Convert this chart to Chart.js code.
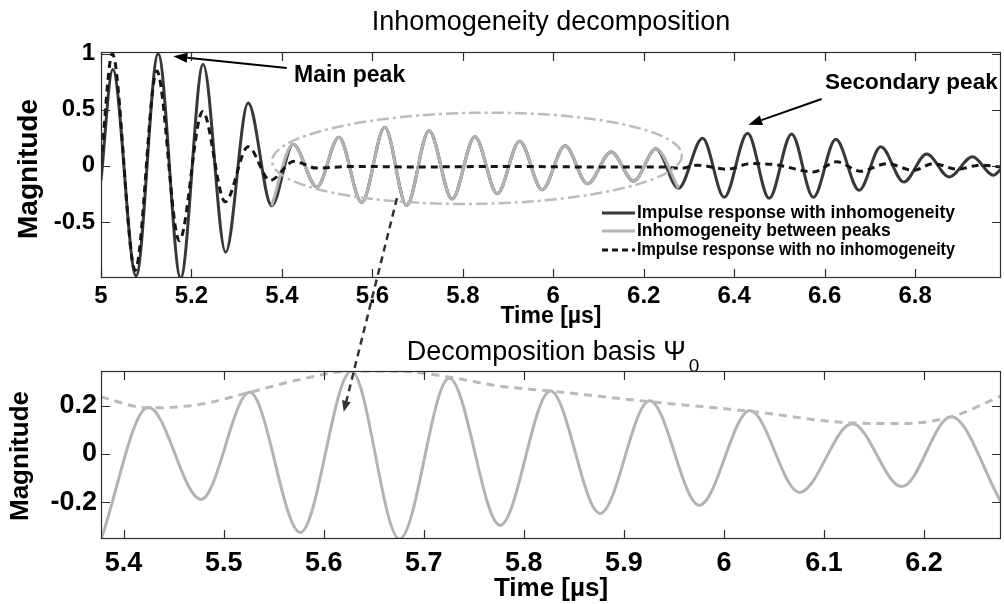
<!DOCTYPE html>
<html><head><meta charset="utf-8">
<script src="https://cdn.jsdelivr.net/npm/chart.js@4"></script>
<style>
html,body{margin:0;padding:0;background:#fff;}
#wrap{position:relative;width:1004px;height:604px;overflow:hidden;background:#fff;}
canvas{position:absolute;left:0;top:0;}
</style></head><body>
<div id="wrap"><canvas id="c1" width="1004" height="604"></canvas><canvas id="c2" width="1004" height="604"></canvas></div>
<script>
// ---------------- DATA ----------------
// Impulse response with inhomogeneity: head part (main pulse)
const irInhomHeadT = [5.000, 5.026, 5.0776, 5.1264, 5.1761, 5.2258, 5.2756, 5.3253];
const irInhomHeadV = [-0.13, 0.86, -0.98, 1.00, -1.00, 0.905, -0.77, 0.56];
// Inhomogeneity between peaks (also middle part of the response)
const inhomT = [5.3774, 5.4248, 5.4774, 5.526, 5.5766, 5.6275, 5.6758, 5.7254, 5.7763, 5.8266, 5.8762, 5.9258, 5.9754, 6.026, 6.0756, 6.1282, 6.1778, 6.227, 6.2769];
const inhomV = [-0.355, 0.193, -0.189, 0.255, -0.326, 0.343, -0.353, 0.313, -0.296, 0.26, -0.247, 0.22, -0.213, 0.179, -0.16, 0.124, -0.136, 0.153, -0.2];
// Impulse response with inhomogeneity: tail part (secondary peak)
const irInhomTailT = [6.3302, 6.378, 6.4297, 6.4774, 6.527, 6.575, 6.6247, 6.6764, 6.7242, 6.775, 6.8257, 6.8754, 6.9271, 6.9729, 6.99];
const irInhomTailV = [0.246, -0.28, 0.29, -0.29, 0.285, -0.28, 0.237, -0.218, 0.17, -0.144, 0.105, -0.099, 0.081, -0.084, -0.03];
// Impulse response with no inhomogeneity
const irHomT = [5.000, 5.025, 5.0756, 5.1234, 5.1731, 5.2248, 5.2746, 5.3253, 5.374, 5.4266, 5.477, 5.557, 5.696, 5.895, 6.094, 6.243, 6.283, 6.318, 6.385, 6.436, 6.492, 6.575, 6.627, 6.679, 6.738, 6.796, 6.841, 6.893, 6.944, 6.99];
const irHomV = [0.02, 1.00, -0.93, 0.845, -0.667, 0.485, -0.32, 0.17, -0.13, 0.04, -0.02, -0.005, -0.01, -0.005, -0.01, -0.01, -0.023, 0.006, -0.03, 0.02, 0.01, -0.054, 0.036, -0.048, 0.02, -0.04, 0.02, -0.03, 0.006, -0.01];
// Envelope of the decomposition basis (bottom plot, dashed)
const envT = [5.3774, 5.4248, 5.4764, 5.526, 5.5766, 5.6275, 5.6768, 5.7264, 5.7763, 5.8266, 5.9258, 6.0264, 6.1272, 6.1772, 6.2272, 6.2769];
const envV = [0.235, 0.19, 0.205, 0.255, 0.308, 0.343, 0.342, 0.317, 0.28, 0.26, 0.216, 0.176, 0.128, 0.125, 0.153, 0.239];

// Tick values and labels
const topXTicks = [5, 5.2, 5.4, 5.6, 5.8, 6, 6.2, 6.4, 6.6, 6.8];
const topXLabels = ['5', '5.2', '5.4', '5.6', '5.8', '6', '6.2', '6.4', '6.6', '6.8'];
const topYTicks = [-0.5, 0, 0.5, 1];
const topYLabels = ['-0.5', '0', '0.5', '1'];
const botXTicks = [5.4, 5.5, 5.6, 5.7, 5.8, 5.9, 6, 6.1, 6.2];
const botXLabels = ['5.4', '5.5', '5.6', '5.7', '5.8', '5.9', '6', '6.1', '6.2'];
const botYTicks = [-0.2, 0, 0.2];
const botYLabels = ['-0.2', '0', '0.2'];

// Axis ranges
const topXRange = [5.0, 6.99];
const topYRange = [-1.0, 1.015];
const botXRange = [5.3774, 6.2769];
const botYRange = [-0.353, 0.343];

// Texts
const topTitle = 'Inhomogeneity decomposition';
const botTitle = 'Decomposition basis \u03A8';
const botTitleSub = '0';
const xLabel = 'Time [\u00B5s]';
const yLabel = 'Magnitude';
const legendLabels = ['Impulse response with inhomogeneity', 'Inhomogeneity between peaks', 'Impulse response with no inhomogeneity'];
const mainPeakText = 'Main peak';
const secPeakText = 'Secondary peak';

// Annotation anchors (data coordinates of the top plot unless noted)
const mainArrow = {x0: 5.4106, y0: 0.872, x1: 5.160, y1: 0.976};
const mainTextPos = {x: 5.4267, y: 0.804};
const secArrow = {x0: 6.5934, y0: 0.5955, x1: 6.4311, y1: 0.366};
const secTextPos = {x: 6.6010, y: 0.741};
const ellipseSpec = {cx: 5.8313, cy: 0.067, rx: 0.4532, ry: 0.406, rot: -0.015};
const zoomArrowStart = {x: 5.6544, y: -0.288};   // top plot coords
const zoomArrowEnd = {x: 5.620, y: 0.174};       // bottom plot coords

// ---------------- STYLE ----------------
const FONT = '"Liberation Sans", Arial, Helvetica, sans-serif';
const C_DARK = '#383838', C_GRAY = '#b3b3b3', C_DASH = '#161616', C_FRAME = '#2e2e2e';

function pts(T, V) { return T.map((t, i) => ({x: t, y: V[i]})); }

function makeScales(xr, yr, xt, xl, yt, yl, fs, xPad, yPad, yW, xH) {
  return {
    x: {
      type: 'linear', min: xr[0], max: xr[1],
      grid: {display: false, drawTicks: false}, border: {display: false},
      afterBuildTicks: s => { s.ticks = xt.map(v => ({value: v})); },
      afterFit: s => { s.height = xH; },
      ticks: {autoSkip: false, maxRotation: 0, minRotation: 0, padding: xPad, color: '#000',
        font: {family: FONT, size: fs, weight: 'bold'}, callback: (v, i) => xl[i]}
    },
    y: {
      type: 'linear', min: yr[0], max: yr[1],
      grid: {display: false, drawTicks: false}, border: {display: false},
      afterBuildTicks: s => { s.ticks = yt.map(v => ({value: v})); },
      afterFit: s => { s.width = yW; },
      ticks: {autoSkip: false, padding: yPad, color: '#000',
        font: {family: FONT, size: fs, weight: 'bold'}, callback: (v, i) => yl[i]}
    }
  };
}

const frameTicks = {
  id: 'frameTicks',
  afterDatasetsDraw(chart) {
    const {ctx, chartArea: a, scales: {x, y}} = chart;
    const L = 9;
    ctx.save();
    ctx.strokeStyle = C_FRAME; ctx.lineWidth = 1.2; ctx.setLineDash([]);
    ctx.strokeRect(a.left + 0.5, a.top + 0.5, a.right - a.left - 1, a.bottom - a.top - 1);
    ctx.beginPath();
    x.ticks.forEach(t => {
      const p = Math.round(x.getPixelForValue(t.value)) + 0.5;
      ctx.moveTo(p, a.bottom); ctx.lineTo(p, a.bottom - L);
      ctx.moveTo(p, a.top); ctx.lineTo(p, a.top + L);
    });
    y.ticks.forEach(t => {
      const p = Math.round(y.getPixelForValue(t.value)) + 0.5;
      ctx.moveTo(a.left, p); ctx.lineTo(a.left + L, p);
      ctx.moveTo(a.right, p); ctx.lineTo(a.right - L, p);
    });
    ctx.stroke();
    ctx.restore();
  }
};

function arrow(ctx, x0, y0, x1, y1, color, lw, dash, hl, hw) {
  ctx.save();
  ctx.strokeStyle = color; ctx.fillStyle = color; ctx.lineWidth = lw;
  const ang = Math.atan2(y1 - y0, x1 - x0);
  const bx = x1 - hl * Math.cos(ang), by = y1 - hl * Math.sin(ang);
  ctx.setLineDash(dash);
  ctx.beginPath(); ctx.moveTo(x0, y0); ctx.lineTo(bx, by); ctx.stroke();
  ctx.setLineDash([]);
  ctx.beginPath();
  ctx.moveTo(x1, y1);
  ctx.lineTo(bx + hw * Math.sin(ang), by - hw * Math.cos(ang));
  ctx.lineTo(bx - hw * Math.sin(ang), by + hw * Math.cos(ang));
  ctx.closePath(); ctx.fill();
  ctx.restore();
}

function text(ctx, s, x, y, font, align, rot, maxW) {
  ctx.save();
  ctx.fillStyle = '#000'; ctx.font = font; ctx.textAlign = align || 'center'; ctx.textBaseline = 'middle';
  ctx.translate(x, y);
  if (rot) ctx.rotate(rot);
  if (maxW) ctx.fillText(s, 0, 0, maxW); else ctx.fillText(s, 0, 0);
  ctx.restore();
}

const topAnno = {
  id: 'topAnno',
  afterDatasetsDraw(chart) {
    const {ctx, chartArea: a, scales: {x, y}} = chart;
    const px = t => x.getPixelForValue(t), py = v => y.getPixelForValue(v);
    // ellipse
    ctx.save();
    ctx.beginPath();
    const e = ellipseSpec;
    ctx.ellipse(px(e.cx), py(e.cy), px(e.cx + e.rx) - px(e.cx), py(e.cy) - py(e.cy + e.ry), e.rot, 0, Math.PI * 2);
    ctx.setLineDash([12, 4, 3, 4]); ctx.strokeStyle = '#bcbcbc'; ctx.lineWidth = 2.5; ctx.stroke();
    ctx.restore();
    // arrows + texts
    arrow(ctx, px(mainArrow.x0), py(mainArrow.y0), px(mainArrow.x1), py(mainArrow.y1), '#000', 2, [], 14, 5);
    arrow(ctx, px(secArrow.x0), py(secArrow.y0), px(secArrow.x1), py(secArrow.y1), '#000', 2, [], 14, 5);
    text(ctx, mainPeakText, px(mainTextPos.x), py(mainTextPos.y), 'bold 23px ' + FONT, 'left');
    text(ctx, secPeakText, px(secTextPos.x), py(secTextPos.y), 'bold 22.5px ' + FONT, 'left');
    // legend
    const lx0 = 602, lx1 = 635, tx = 637, rows = [213, 231, 250], maxW = [0, 0, 318];
    const styles = [[C_DARK, []], [C_GRAY, []], [C_DASH, [6, 4]]];
    rows.forEach((ry, i) => {
      ctx.save();
      ctx.strokeStyle = styles[i][0]; ctx.lineWidth = 3; ctx.setLineDash(styles[i][1]);
      ctx.beginPath(); ctx.moveTo(lx0, ry); ctx.lineTo(lx1, ry); ctx.stroke();
      ctx.restore();
      text(ctx, legendLabels[i], tx, ry, 'bold 17.5px ' + FONT, 'left', 0, maxW[i]);
    });
    // title and axis labels
    const cx = (a.left + a.right) / 2;
    text(ctx, topTitle, cx, 23, '27px ' + FONT, 'center');
    text(ctx, xLabel, cx, 317, 'bold 23px ' + FONT, 'center');
    text(ctx, yLabel, 29, (a.top + a.bottom) / 2 + 4, 'bold 28px ' + FONT, 'center', -Math.PI / 2);
  }
};

const c1 = new Chart(document.getElementById('c1'), {
  type: 'line',
  data: {datasets: [
    {data: pts(irHomT, irHomV), borderColor: C_DASH, borderWidth: 3, borderDash: [7, 5], order: 1},
    {data: pts(inhomT, inhomV), borderColor: C_GRAY, borderWidth: 3, order: 2},
    {data: pts(irInhomHeadT.concat(inhomT, irInhomTailT), irInhomHeadV.concat(inhomV, irInhomTailV)), borderColor: C_DARK, borderWidth: 3, order: 3}
  ]},
  options: {
    responsive: false, animation: false, events: [],
    layout: {padding: {left: 41, top: 52, right: 3, bottom: 286}},
    elements: {point: {radius: 0}, line: {cubicInterpolationMode: 'monotone', borderJoinStyle: 'round'}},
    plugins: {legend: {display: false}, tooltip: {enabled: false}},
    scales: makeScales(topXRange, topYRange, topXTicks, topXLabels, topYTicks, topYLabels, 24, 4, 6, 60, 40)
  },
  plugins: [topAnno, frameTicks]
});

const botAnno = {
  id: 'botAnno',
  afterDatasetsDraw(chart) {
    const {ctx, chartArea: a, scales: {x, y}} = chart;
    const cx = (a.left + a.right) / 2;
    // title with subscript
    ctx.save();
    ctx.font = '27px ' + FONT;
    const w1 = ctx.measureText(botTitle).width;
    ctx.font = '19px ' + FONT;
    const w2 = ctx.measureText(botTitleSub).width;
    const x0 = cx + 2 - (w1 + 3 + w2) / 2;
    ctx.fillStyle = '#000'; ctx.textBaseline = 'alphabetic'; ctx.textAlign = 'left';
    ctx.font = '27px ' + FONT; ctx.fillText(botTitle, x0, 360);
    ctx.font = '19px ' + FONT; ctx.fillText(botTitleSub, x0 + w1 + 3, 372);
    ctx.restore();
    text(ctx, xLabel, cx, 589, 'bold 26px ' + FONT, 'center');
    text(ctx, yLabel, 21, (a.top + a.bottom) / 2 + 1, 'bold 26px ' + FONT, 'center', -Math.PI / 2);
  },
  afterDraw(chart) {
    const {ctx, scales: {x, y}} = chart;
    const sx = c1.scales.x, sy = c1.scales.y;
    arrow(ctx, sx.getPixelForValue(zoomArrowStart.x), sy.getPixelForValue(zoomArrowStart.y),
      x.getPixelForValue(zoomArrowEnd.x), y.getPixelForValue(zoomArrowEnd.y), '#333', 2.5, [7, 5], 11, 4.5);
  }
};

new Chart(document.getElementById('c2'), {
  type: 'line',
  data: {datasets: [
    {data: pts(envT, envV), borderColor: '#bababa', borderWidth: 3, borderDash: [8, 6], order: 1},
    {data: pts(inhomT, inhomV), borderColor: C_GRAY, borderWidth: 3, order: 2}
  ]},
  options: {
    responsive: false, animation: false, events: [],
    layout: {padding: {left: 41, top: 371, right: 3, bottom: 20}},
    elements: {point: {radius: 0}, line: {cubicInterpolationMode: 'monotone', borderJoinStyle: 'round'}},
    plugins: {legend: {display: false}, tooltip: {enabled: false}},
    scales: makeScales(botXRange, botYRange, botXTicks, botXLabels, botYTicks, botYLabels, 27, 8, 4, 60, 45)
  },
  plugins: [botAnno, frameTicks]
});
</script>
</body></html>
